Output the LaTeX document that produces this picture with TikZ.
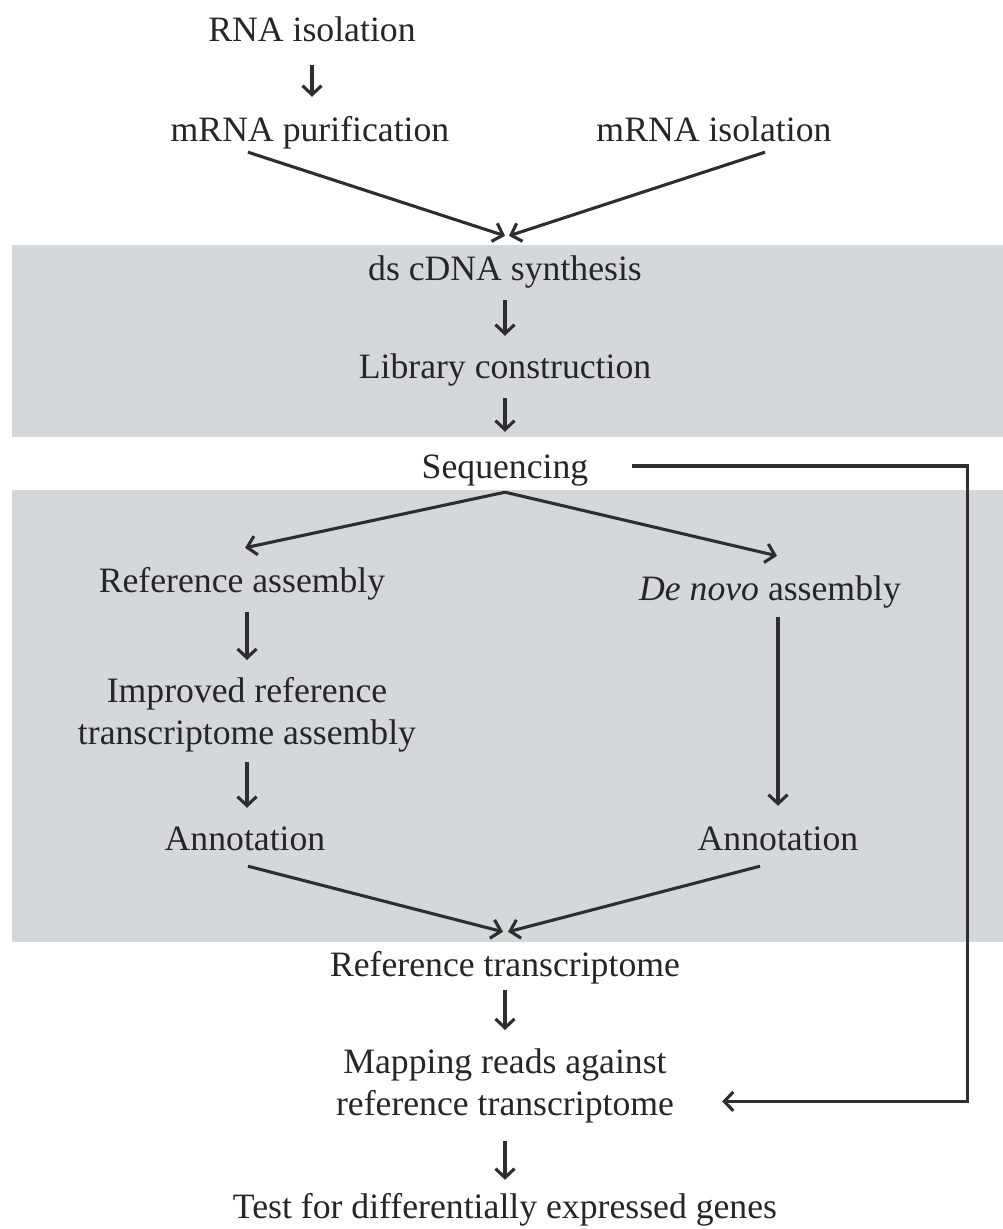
\documentclass[tikz,border=0pt]{standalone}
\usepackage{fontspec}
\setmainfont{Liberation Serif}
\usetikzlibrary{arrows.meta}
\definecolor{band}{HTML}{D5D8DB}
\definecolor{ink}{HTML}{262626}
\definecolor{linec}{HTML}{2E2E2E}
\begin{document}
\begin{tikzpicture}[x=1pt,y=-1pt,
  lbl/.style={inner sep=0pt,text height=25pt,text depth=8pt,anchor=base,text=ink,
    font=\fontsize{35.7}{42}\selectfont},
  lbltwo/.style={inner sep=0pt,anchor=north,align=center,text=ink,
    font=\fontsize{35.7}{42}\selectfont},
  arr/.style={draw=linec,line width=3.1pt,
    -{Straight Barb[length=9pt,width=19pt,line width=3.1pt]}},
  varr/.style={arr,shorten <=12pt,shorten >=17pt}]
\useasboundingbox (0,0) rectangle (1003,1229);
\fill[white] (0,0) rectangle (1003,1229);
\fill[band] (12,245) rectangle (1003,437);
\fill[band] (12,490) rectangle (1003,942);

\node[lbl] (rna) at (312,41) {RNA isolation};
\node[lbl] (mpur) at (310,141) {mRNA purification};
\node[lbl] (miso) at (714,141) {mRNA isolation};
\node[lbl] (ds) at (505,280) {ds cDNA synthesis};
\node[lbl] (lib) at (505,378) {Library construction};
\node[lbl] (seq) at (505,478) {Sequencing};
\node[lbl] (refasm) at (242,592) {Reference assembly};
\node[lbl] (denovo) at (770,600) {\textit{De novo} assembly};
\node[lbltwo] (impr) at (247,677) {Improved reference\\transcriptome assembly};
\node[lbl] (annL) at (245,850) {Annotation};
\node[lbl] (annR) at (778,850) {Annotation};
\node[lbl] (reft) at (505,976) {Reference transcriptome};
\node[lbltwo] (map) at (505,1049) {Mapping reads against\\reference transcriptome};
\node[lbl] (test) at (505,1218) {Test for differentially expressed genes};

\draw[arr,shorten <=16pt,shorten >=19pt] (rna.south) -- (rna.south |- mpur.north);
\draw[arr] ([xshift=-62pt,yshift=-3pt]mpur.south) -- ([xshift=0pt,yshift=19pt]ds.north);
\draw[arr] ([xshift=51pt,yshift=-3pt]miso.south) -- ([xshift=4pt,yshift=19pt]ds.north);
\draw[varr] (ds.south) -- (lib.north);
\draw[arr,shorten <=12pt,shorten >=21pt] (lib.south) -- (seq.north);
\draw[arr] ([yshift=-6pt]seq.south) -- ([xshift=3pt,yshift=19pt]refasm.north);
\draw[arr] ([yshift=-6pt]seq.south) -- ([xshift=7pt,yshift=19pt]denovo.north);
\draw[arr,line join=miter] ([xshift=44pt,yshift=3.5pt]seq.east) -| ([xshift=293pt,yshift=-15pt]map.east) -- ([xshift=48pt,yshift=-15pt]map.east);
\draw[varr] (impr.north |- refasm.south) -- (impr.north);
\draw[arr,shorten <=10pt,shorten >=17pt] (impr.south) -- (impr.south |- annL.north);
\draw[arr,shorten <=9pt,shorten >=19pt] (denovo.south -| annR.north) -- (annR.north);
\draw[arr] ([xshift=3pt,yshift=-8pt]annL.south) -- ([xshift=-2pt,yshift=19pt]reft.north);
\draw[arr] ([xshift=-18pt,yshift=-8pt]annR.south) -- ([xshift=3pt,yshift=19pt]reft.north);
\draw[arr,shorten <=6pt,shorten >=19pt] (reft.south) -- (map.north);
\draw[arr,shorten <=17pt,shorten >=13pt] (map.south) -- (test.north);
\end{tikzpicture}
\end{document}
